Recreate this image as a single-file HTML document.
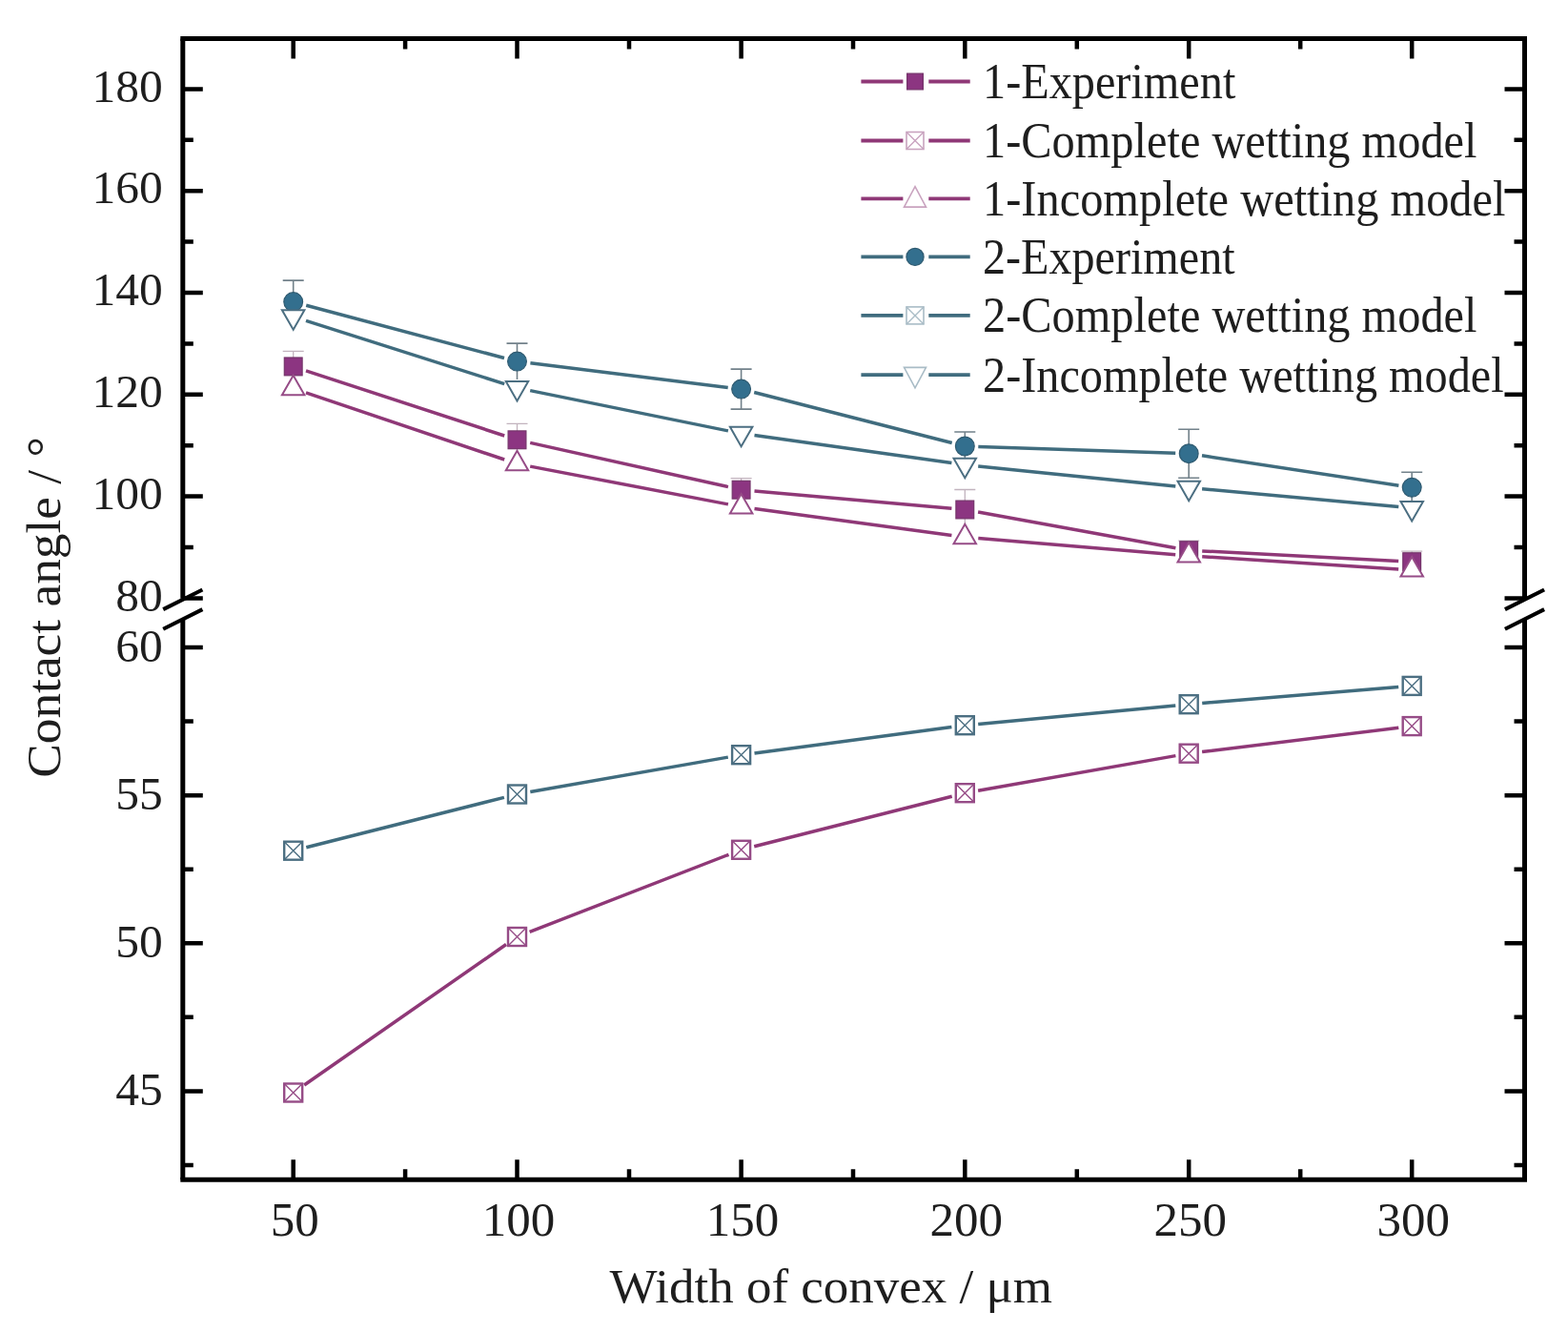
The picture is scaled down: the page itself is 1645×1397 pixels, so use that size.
<!DOCTYPE html>
<html><head><meta charset="utf-8"><title>Contact angle chart</title>
<style>html,body{margin:0;padding:0;background:#fff;width:1645px;height:1397px;overflow:hidden;position:relative}</style>
</head><body>
<svg width="1645" height="1397" viewBox="0 0 1645 1397" style="position:absolute;left:0;top:0">
<rect width="1645" height="1397" fill="#ffffff"/>
<path d="M321.0,411.9L529.2,482.0M556.2,489.1L763.9,528.9M791.5,533.4L998.4,561.4M1026.3,564.5L1233.2,581.7M1261.2,583.7L1467.2,596.9" fill="none" stroke="#8f3877" stroke-width="3.5"/>
<path d="M321.0,388.8L529.2,457.0M556.2,464.4L763.9,510.6M791.5,514.9L998.4,533.2M1026.1,537.0L1233.4,574.7M1261.2,577.9L1467.2,588.5" fill="none" stroke="#8f3877" stroke-width="3.5"/>
<path d="M321.0,336.3L529.2,402.6M556.2,409.6L763.9,451.9M791.5,456.6L998.4,485.6M1026.2,488.9L1233.3,510.1M1261.1,512.8L1467.3,531.6" fill="none" stroke="#406c7e" stroke-width="3.5"/>
<path d="M321.2,320.2L529.0,375.5M556.4,380.8L763.7,406.4M791.2,411.5L998.7,464.5M1026.3,468.5L1233.2,475.3M1261.0,477.8L1467.4,509.2" fill="none" stroke="#406c7e" stroke-width="3.5"/>
<path d="M319.2,1138.0L531.0,990.5M555.6,977.4L764.5,896.3M791.2,887.8L998.7,835.2M1026.1,829.3L1233.4,792.6M1261.1,788.5L1467.3,763.3" fill="none" stroke="#8f3877" stroke-width="3.5"/>
<path d="M321.3,888.8L528.9,836.4M556.3,830.5L763.8,794.1M791.5,789.9L998.4,762.5M1026.2,759.4L1233.3,740.0M1261.2,737.5L1467.2,720.6" fill="none" stroke="#406c7e" stroke-width="3.5"/>
<path d="M307.7,368.4V400.4M296.7,368.4h22" stroke="#c2b3be" stroke-width="1.3" fill="none"/>
<path d="M542.5,444.3V478.3M531.5,444.3h22" stroke="#c2b3be" stroke-width="1.3" fill="none"/>
<path d="M777.6,501.7V525.7M766.6,501.7h22" stroke="#c2b3be" stroke-width="1.3" fill="none"/>
<path d="M1012.3,513.5V555.5M1001.3,513.5h22" stroke="#c2b3be" stroke-width="1.3" fill="none"/>
<path d="M1247.2,567.2V587.2M1236.2,567.2h22" stroke="#c2b3be" stroke-width="1.3" fill="none"/>
<path d="M1481.2,578.2V600.2M1470.2,578.2h22" stroke="#c2b3be" stroke-width="1.3" fill="none"/>
<path d="M307.7,294.1V339.1M296.7,294.1h22" stroke="#72818a" stroke-width="1.6" fill="none"/>
<path d="M542.5,360.1V398.1M531.5,360.1h22" stroke="#72818a" stroke-width="1.6" fill="none"/>
<path d="M777.6,387.1V429.1M766.6,387.1h22M766.6,429.1h22" stroke="#72818a" stroke-width="1.6" fill="none"/>
<path d="M1012.3,453.0V483.0M1001.3,453.0h22" stroke="#72818a" stroke-width="1.6" fill="none"/>
<path d="M1247.2,450.2V501.2M1236.2,450.2h22M1236.2,501.2h22" stroke="#72818a" stroke-width="1.6" fill="none"/>
<path d="M1481.2,495.3V527.3M1470.2,495.3h22" stroke="#72818a" stroke-width="1.6" fill="none"/>
<rect x="298.3" y="375.0" width="18.8" height="18.8" fill="#8c3581" stroke="#74346a" stroke-width="1.2"/>
<rect x="533.1" y="451.9" width="18.8" height="18.8" fill="#8c3581" stroke="#74346a" stroke-width="1.2"/>
<rect x="768.2" y="504.3" width="18.8" height="18.8" fill="#8c3581" stroke="#74346a" stroke-width="1.2"/>
<rect x="1002.9" y="525.1" width="18.8" height="18.8" fill="#8c3581" stroke="#74346a" stroke-width="1.2"/>
<rect x="1237.8" y="567.8" width="18.8" height="18.8" fill="#8c3581" stroke="#74346a" stroke-width="1.2"/>
<rect x="1471.8" y="579.8" width="18.8" height="18.8" fill="#8c3581" stroke="#74346a" stroke-width="1.2"/>
<polygon points="307.7,393.7 319.4,414.2 295.9,414.2" fill="#ffffff" stroke="#964c87" stroke-width="2.0" stroke-linejoin="miter"/>
<polygon points="542.5,472.8 554.2,493.3 530.8,493.3" fill="#ffffff" stroke="#964c87" stroke-width="2.0" stroke-linejoin="miter"/>
<polygon points="777.6,517.9 789.4,538.4 765.9,538.4" fill="#ffffff" stroke="#964c87" stroke-width="2.0" stroke-linejoin="miter"/>
<polygon points="1012.3,549.7 1024.0,570.2 1000.5,570.2" fill="#ffffff" stroke="#964c87" stroke-width="2.0" stroke-linejoin="miter"/>
<polygon points="1247.2,569.1 1259.0,589.6 1235.5,589.6" fill="#ffffff" stroke="#964c87" stroke-width="2.0" stroke-linejoin="miter"/>
<polygon points="1481.2,584.1 1493.0,604.6 1469.5,604.6" fill="#ffffff" stroke="#964c87" stroke-width="2.0" stroke-linejoin="miter"/>
<circle cx="307.7" cy="316.6" r="9.9" fill="#336f8e" stroke="#2f5a70" stroke-width="1.2"/>
<circle cx="542.5" cy="379.1" r="9.9" fill="#336f8e" stroke="#2f5a70" stroke-width="1.2"/>
<circle cx="777.6" cy="408.1" r="9.9" fill="#336f8e" stroke="#2f5a70" stroke-width="1.2"/>
<circle cx="1012.3" cy="468.0" r="9.9" fill="#336f8e" stroke="#2f5a70" stroke-width="1.2"/>
<circle cx="1247.2" cy="475.7" r="9.9" fill="#336f8e" stroke="#2f5a70" stroke-width="1.2"/>
<circle cx="1481.2" cy="511.3" r="9.9" fill="#336f8e" stroke="#2f5a70" stroke-width="1.2"/>
<polygon points="295.9,325.3 319.4,325.3 307.7,345.8" fill="#ffffff" stroke="#4c6f82" stroke-width="2.0" stroke-linejoin="miter"/>
<polygon points="530.8,400.0 554.2,400.0 542.5,420.5" fill="#ffffff" stroke="#4c6f82" stroke-width="2.0" stroke-linejoin="miter"/>
<polygon points="765.9,447.8 789.4,447.8 777.6,468.3" fill="#ffffff" stroke="#4c6f82" stroke-width="2.0" stroke-linejoin="miter"/>
<polygon points="1000.5,480.7 1024.0,480.7 1012.3,501.2" fill="#ffffff" stroke="#4c6f82" stroke-width="2.0" stroke-linejoin="miter"/>
<polygon points="1235.5,504.7 1259.0,504.7 1247.2,525.2" fill="#ffffff" stroke="#4c6f82" stroke-width="2.0" stroke-linejoin="miter"/>
<polygon points="1469.5,526.0 1493.0,526.0 1481.2,546.5" fill="#ffffff" stroke="#4c6f82" stroke-width="2.0" stroke-linejoin="miter"/>
<rect x="298.2" y="1136.5" width="19" height="19" fill="#ffffff" stroke="#964c87" stroke-width="2.4"/>
<path d="M298.2,1136.5L317.2,1155.5M317.2,1136.5L298.2,1155.5" stroke="#964c87" stroke-width="1.4"/>
<rect x="533.0" y="973.0" width="19" height="19" fill="#ffffff" stroke="#964c87" stroke-width="2.4"/>
<path d="M533.0,973.0L552.0,992.0M552.0,973.0L533.0,992.0" stroke="#964c87" stroke-width="1.4"/>
<rect x="768.1" y="881.8" width="19" height="19" fill="#ffffff" stroke="#964c87" stroke-width="2.4"/>
<path d="M768.1,881.8L787.1,900.8M787.1,881.8L768.1,900.8" stroke="#964c87" stroke-width="1.4"/>
<rect x="1002.8" y="822.2" width="19" height="19" fill="#ffffff" stroke="#964c87" stroke-width="2.4"/>
<path d="M1002.8,822.2L1021.8,841.2M1021.8,822.2L1002.8,841.2" stroke="#964c87" stroke-width="1.4"/>
<rect x="1237.7" y="780.7" width="19" height="19" fill="#ffffff" stroke="#964c87" stroke-width="2.4"/>
<path d="M1237.7,780.7L1256.7,799.7M1256.7,780.7L1237.7,799.7" stroke="#964c87" stroke-width="1.4"/>
<rect x="1471.7" y="752.1" width="19" height="19" fill="#ffffff" stroke="#964c87" stroke-width="2.4"/>
<path d="M1471.7,752.1L1490.7,771.1M1490.7,752.1L1471.7,771.1" stroke="#964c87" stroke-width="1.4"/>
<rect x="298.2" y="882.7" width="19" height="19" fill="#ffffff" stroke="#4c6f82" stroke-width="2.4"/>
<path d="M298.2,882.7L317.2,901.7M317.2,882.7L298.2,901.7" stroke="#4c6f82" stroke-width="1.4"/>
<rect x="533.0" y="823.5" width="19" height="19" fill="#ffffff" stroke="#4c6f82" stroke-width="2.4"/>
<path d="M533.0,823.5L552.0,842.5M552.0,823.5L533.0,842.5" stroke="#4c6f82" stroke-width="1.4"/>
<rect x="768.1" y="782.2" width="19" height="19" fill="#ffffff" stroke="#4c6f82" stroke-width="2.4"/>
<path d="M768.1,782.2L787.1,801.2M787.1,782.2L768.1,801.2" stroke="#4c6f82" stroke-width="1.4"/>
<rect x="1002.8" y="751.2" width="19" height="19" fill="#ffffff" stroke="#4c6f82" stroke-width="2.4"/>
<path d="M1002.8,751.2L1021.8,770.2M1021.8,751.2L1002.8,770.2" stroke="#4c6f82" stroke-width="1.4"/>
<rect x="1237.7" y="729.2" width="19" height="19" fill="#ffffff" stroke="#4c6f82" stroke-width="2.4"/>
<path d="M1237.7,729.2L1256.7,748.2M1256.7,729.2L1237.7,748.2" stroke="#4c6f82" stroke-width="1.4"/>
<rect x="1471.7" y="709.9" width="19" height="19" fill="#ffffff" stroke="#4c6f82" stroke-width="2.4"/>
<path d="M1471.7,709.9L1490.7,728.9M1490.7,709.9L1471.7,728.9" stroke="#4c6f82" stroke-width="1.4"/>
<path d="M189.3,40.5H1602.0M189.3,1237.3H1602.0" stroke="#000000" stroke-width="5.0"/>
<path d="M191.8,40.5V627.8M191.8,649.5V1237.3M1599.5,40.5V627.8M1599.5,649.5V1237.3" stroke="#000000" stroke-width="5.0"/>
<line x1="171.2" y1="639.1" x2="212.4" y2="618.5" stroke="#000000" stroke-width="4"/>
<line x1="171.2" y1="659.7" x2="212.4" y2="639.1" stroke="#000000" stroke-width="4"/>
<line x1="1578.9" y1="639.1" x2="1620.1" y2="618.5" stroke="#000000" stroke-width="4"/>
<line x1="1578.9" y1="659.7" x2="1620.1" y2="639.1" stroke="#000000" stroke-width="4"/>
<path d="M191.8,627.4h21M1599.5,627.4h-21M191.8,574.0h11M1599.5,574.0h-11M191.8,520.6h21M1599.5,520.6h-21M191.8,467.2h11M1599.5,467.2h-11M191.8,413.8h21M1599.5,413.8h-21M191.8,360.4h11M1599.5,360.4h-11M191.8,307.0h21M1599.5,307.0h-21M191.8,253.6h11M1599.5,253.6h-11M191.8,200.2h21M1599.5,200.2h-21M191.8,146.8h11M1599.5,146.8h-11M191.8,93.4h21M1599.5,93.4h-21M191.8,1222.0h11M1599.5,1222.0h-11M191.8,1144.4h21M1599.5,1144.4h-21M191.8,1066.8h11M1599.5,1066.8h-11M191.8,989.3h21M1599.5,989.3h-21M191.8,911.8h11M1599.5,911.8h-11M191.8,834.2h21M1599.5,834.2h-21M191.8,756.6h11M1599.5,756.6h-11M191.8,679.1h21M1599.5,679.1h-21M307.7,40.5v21M307.7,1237.3v-21M425.1,40.5v11M425.1,1237.3v-11M542.5,40.5v21M542.5,1237.3v-21M660.0,40.5v11M660.0,1237.3v-11M777.6,40.5v21M777.6,1237.3v-21M895.0,40.5v11M895.0,1237.3v-11M1012.3,40.5v21M1012.3,1237.3v-21M1129.8,40.5v11M1129.8,1237.3v-11M1247.2,40.5v21M1247.2,1237.3v-21M1364.2,40.5v11M1364.2,1237.3v-11M1481.2,40.5v21M1481.2,1237.3v-21" stroke="#000000" stroke-width="4.5" fill="none"/>
<g font-family="'Liberation Serif','Times New Roman',serif" font-size="49.5" fill="#1e1e1e">
<text x="170.8" y="640.6" text-anchor="end">80</text>
<text x="170.8" y="533.8" text-anchor="end">100</text>
<text x="170.8" y="427.0" text-anchor="end">120</text>
<text x="170.8" y="320.2" text-anchor="end">140</text>
<text x="170.8" y="213.4" text-anchor="end">160</text>
<text x="170.8" y="106.6" text-anchor="end">180</text>
<text x="170.8" y="693.5" text-anchor="end">60</text>
<text x="170.8" y="848.6" text-anchor="end">55</text>
<text x="170.8" y="1003.7" text-anchor="end">50</text>
<text x="170.8" y="1158.8" text-anchor="end">45</text>
</g>
<g font-family="'Liberation Serif','Times New Roman',serif" font-size="51" fill="#1e1e1e">
<text x="309.2" y="1296.2" text-anchor="middle">50</text>
<text x="544.0" y="1296.2" text-anchor="middle">100</text>
<text x="779.1" y="1296.2" text-anchor="middle">150</text>
<text x="1013.8" y="1296.2" text-anchor="middle">200</text>
<text x="1248.7" y="1296.2" text-anchor="middle">250</text>
<text x="1482.7" y="1296.2" text-anchor="middle">300</text>
</g>
<text x="639.4" y="1366.2" font-family="'Liberation Serif','Times New Roman',serif" font-size="50" fill="#1e1e1e" textLength="464.7" lengthAdjust="spacingAndGlyphs">Width of convex / μm</text>
<text transform="translate(62.6,815.8) rotate(-90)" x="0" y="0" font-family="'Liberation Serif','Times New Roman',serif" font-size="51" fill="#1e1e1e" textLength="357.6" lengthAdjust="spacingAndGlyphs">Contact angle / °</text>
<path d="M903.4,85.5H947.4M974.3,85.5H1017.7" stroke="#8f3877" stroke-width="3.8"/>
<rect x="951.6" y="77.1" width="16.8" height="16.8" fill="#8c3581" stroke="#74346a" stroke-width="1.2"/>
<path d="M903.4,147.5H947.4M974.3,147.5H1017.7" stroke="#8f3877" stroke-width="3.8"/>
<rect x="951.0" y="138.5" width="18" height="18" fill="#ffffff" stroke="#c9a3bf" stroke-width="1.6"/>
<path d="M951.0,138.5L969.0,156.5M969.0,138.5L951.0,156.5" stroke="#c9a3bf" stroke-width="1.4"/>
<path d="M903.4,208.4H947.4M974.3,208.4H1017.7" stroke="#8f3877" stroke-width="3.8"/>
<polygon points="960.0,195.6 971.5,217.1 948.5,217.1" fill="#ffffff" stroke="#c9a3bf" stroke-width="1.6" stroke-linejoin="miter"/>
<path d="M903.4,269.4H947.4M974.3,269.4H1017.7" stroke="#406c7e" stroke-width="3.8"/>
<circle cx="960.0" cy="269.4" r="9.1" fill="#336f8e" stroke="#2f5a70" stroke-width="1.2"/>
<path d="M903.4,330.9H947.4M974.3,330.9H1017.7" stroke="#406c7e" stroke-width="3.8"/>
<rect x="951.0" y="321.9" width="18" height="18" fill="#ffffff" stroke="#a9bcc6" stroke-width="1.6"/>
<path d="M951.0,321.9L969.0,339.9M969.0,321.9L951.0,339.9" stroke="#a9bcc6" stroke-width="1.4"/>
<path d="M903.4,393.1H947.4M974.3,393.1H1017.7" stroke="#406c7e" stroke-width="3.8"/>
<polygon points="948.5,385.4 971.5,385.4 960.0,406.9" fill="#ffffff" stroke="#a9bcc6" stroke-width="1.6" stroke-linejoin="miter"/>
<g font-family="'Liberation Serif','Times New Roman',serif" font-size="52" fill="#1e1e1e">
<text x="1031" y="102.9" textLength="265.3" lengthAdjust="spacingAndGlyphs">1-Experiment</text>
<text x="1031" y="164.9" textLength="518.5" lengthAdjust="spacingAndGlyphs">1-Complete wetting model</text>
<text x="1031" y="225.8" textLength="548.5" lengthAdjust="spacingAndGlyphs">1-Incomplete wetting model</text>
<text x="1031" y="286.8" textLength="264.6" lengthAdjust="spacingAndGlyphs">2-Experiment</text>
<text x="1031" y="348.3" textLength="518.5" lengthAdjust="spacingAndGlyphs">2-Complete wetting model</text>
<text x="1031" y="410.5" textLength="546.7" lengthAdjust="spacingAndGlyphs">2-Incomplete wetting model</text>
</g>
</svg>
</body></html>
